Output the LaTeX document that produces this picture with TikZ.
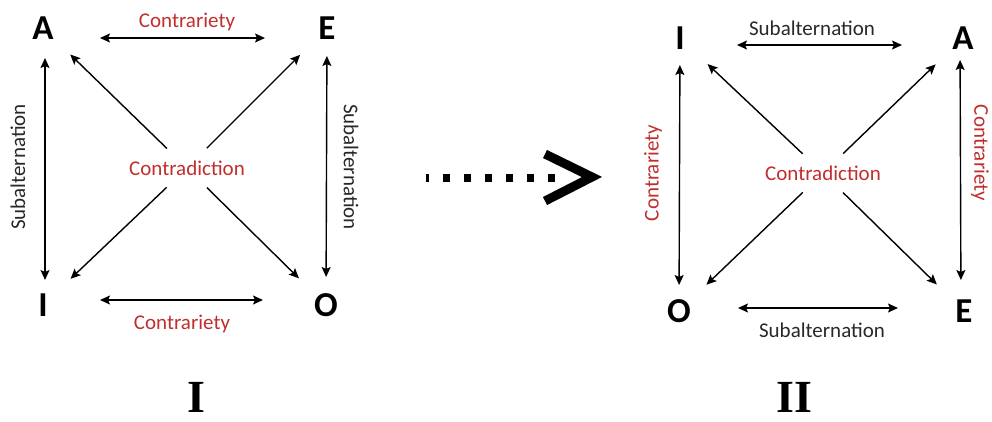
\documentclass[tikz,border=0pt]{standalone}
\usepackage{fontspec}
\setmainfont{Carlito}
\newfontfamily\romanfont{Liberation Serif}
\usetikzlibrary{arrows.meta}
\definecolor{contrared}{RGB}{192,46,46}
\definecolor{subgray}{RGB}{40,40,40}

\begin{document}
\begin{tikzpicture}[x=1pt,y=-1pt,>={Stealth[length=10pt,width=9pt,inset=2pt]},
    corner/.style={font=\fontsize{35}{35}\selectfont\bfseries},
    rel/.style={font=\fontsize{21}{24}\selectfont},
    redrel/.style={rel,text=contrared},
    grayrel/.style={rel,text=subgray},
    link/.style={<->,line width=1.4pt},
    diag/.style={->,line width=1.4pt,shorten <=28pt,shorten >=38pt}]
  \useasboundingbox (0,0) rectangle (992,421);
  % square I
  \node[corner] (A1) at (43,28) {A};
  \node[corner] (E1) at (327,28) {E};
  \node[corner] (I1) at (43,305) {I};
  \node[corner] (O1) at (326,305) {O};
  \node[redrel] (C1) at (187,168) {Contradiction};
  \node[redrel] (top1) at (187,22) {Contrariety};
  \node[redrel] (bot1) at (182,324) {Contrariety};
  \node[grayrel,rotate=90] (left1) at (18,167) {Subalternation};
  \node[grayrel,rotate=-90] (right1) at (351,167) {Subalternation};
  \draw[link,shorten <=57pt,shorten >=62pt] ([yshift=-10pt]A1.center) -- ([yshift=-10pt]E1.center);
  \draw[link,shorten <=57pt,shorten >=63pt] ([yshift=5pt]I1.center) -- ([yshift=5pt]O1.center);
  \draw[link,shorten <=30pt,shorten >=25pt] ([xshift=2pt]A1.center) -- ([xshift=2pt]I1.center);
  \draw[link,shorten <=28pt,shorten >=28pt] (E1.center) -- (O1.center);
  \draw[diag] (C1.center) -- (A1.center);
  \draw[diag] (C1.center) -- (E1.center);
  \draw[diag] (C1.center) -- (I1.center);
  \draw[diag] (C1.center) -- (O1.center);
  % from I to II
  \coordinate (from) at (426,178);
  \coordinate (to) at (556,178);
  \draw[line width=8pt,dash pattern=on 7pt off 14pt,dash phase=4pt] (from) -- (to);
  \draw[line width=9pt,miter limit=10] (545,154) -- (592,177) -- (545,201);
  % square II
  \node[corner] (I2) at (680,38) {I};
  \node[corner] (A2) at (963,38) {A};
  \node[corner] (O2) at (679,311) {O};
  \node[corner] (E2) at (964,311) {E};
  \node[redrel] (C2) at (823,173) {Contradiction};
  \node[grayrel] (top2) at (812,28) {Subalternation};
  \node[grayrel] (bot2) at (822,330) {Subalternation};
  \node[redrel,rotate=90] (left2) at (653,173) {Contrariety};
  \node[redrel,rotate=-90] (right2) at (980,153) {Contrariety};
  \draw[link,shorten <=57pt,shorten >=61pt] ([yshift=-7pt]I2.center) -- ([yshift=-7pt]A2.center);
  \draw[link,shorten <=59pt,shorten >=66pt] ([yshift=3pt]O2.center) -- ([yshift=3pt]E2.center);
  \draw[link,shorten <=27pt,shorten >=26pt] (I2.center) -- (O2.center);
  \draw[link,shorten <=22pt,shorten >=31pt] ([xshift=-3pt]A2.center) -- ([xshift=-3pt]E2.center);
  \draw[diag] (C2.center) -- (I2.center);
  \draw[diag] (C2.center) -- (A2.center);
  \draw[diag] (C2.center) -- (O2.center);
  \draw[diag] (C2.center) -- (E2.center);
  % labels
  \node[font=\romanfont\bfseries\fontsize{46}{46}\selectfont] (n1) at (196,397) {I};
  \node[font=\romanfont\bfseries\fontsize{46}{46}\selectfont] (n2) at (794,397) {II};
\end{tikzpicture}
\end{document}
